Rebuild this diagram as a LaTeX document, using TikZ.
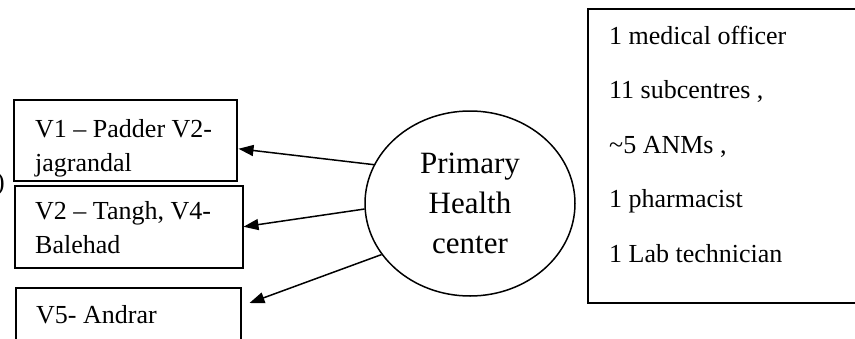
\documentclass[tikz,border=0pt]{standalone}
\usepackage{fontspec}
\setmainfont{Liberation Serif}
\usetikzlibrary{arrows.meta,positioning,shapes.geometric}

\begin{document}
\begin{tikzpicture}[
  x=1pt, y=-1pt,
  vbox/.style={draw, line width=1.5pt, anchor=north west, inner sep=0pt},
  vtext/.style={anchor=base west, align=left, inner sep=0pt, font=\fontsize{26}{34}\selectfont},
  phc/.style={draw, ellipse, line width=1.5pt, minimum width=210pt, minimum height=185pt, inner sep=0pt, align=center, font=\fontsize{31}{40}\selectfont},
  flow/.style={-{Triangle[length=15pt, width=11pt]}, line width=1.5pt}
]
\useasboundingbox (0,0) rectangle (855,338);

\node[phc] (phc) at (470,203.5) {Primary\\Health\\center};

% village boxes (text anchored at the last baseline)
\node[vbox, minimum width=223pt, minimum height=81pt] (v1) at (13,99) {};
\node[vtext] (v1text) at (35,171) {V1 -- Padder V2-\\jagrandal};
\node[vbox, minimum width=228pt, minimum height=82pt] (v2) at (14,185) {};
\node[vtext] (v2text) at (35,253) {V2 -- Tangh, V4-\\Balehad};
\node[vbox, minimum width=225pt, minimum height=80pt] (v3) at (15,287) {};
\node[vtext] (v3text) at (36,323) {V5- Andrar};
\node[vtext, anchor=base east] (cut) at (5,190) {)};

% staff box
\node[vbox, minimum width=300pt, minimum height=294pt] (staff) at (587,8) {};
\node[vtext, font=\fontsize{26}{54.5}\selectfont] (stafftext) at (609,262)
  {1 medical officer\\11 subcentres ,\\\textasciitilde5 ANMs ,\\1 pharmacist\\1 Lab technician};

\draw[flow] (phc.158.6) -- ([shift={(1,8.5)}]v1.east);
\draw[flow] (phc.183.5) -- (v2.east);
\draw[flow] (phc.210.8) -- ([shift={(8,16)}]v3.north east);
\end{tikzpicture}
\end{document}
